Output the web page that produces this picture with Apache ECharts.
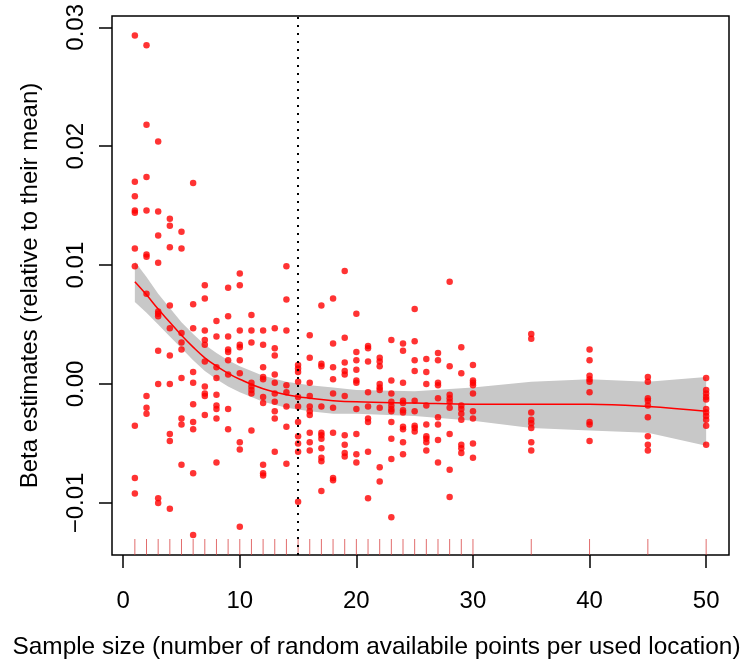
<!DOCTYPE html>
<html>
<head>
<meta charset="utf-8">
<script src="https://cdn.jsdelivr.net/npm/echarts@6/dist/echarts.min.js"></script>
<style>
  html, body { margin: 0; padding: 0; background: #fff; }
  #chart { width: 742px; height: 661px; }
</style>
</head>
<body>
<div id="chart"></div>
<script>
// Sample sizes (random available points per used location)
const sampleSizes = [1, 2, 3, 4, 5, 6, 7, 8, 9, 10, 11, 12, 13, 14, 15, 16, 17, 18, 19, 20,
  21, 22, 23, 24, 25, 26, 27, 28, 29, 30, 35, 40, 45, 50];

// Beta estimates (relative to their mean), one list per sample size
const betaEstimates = [
  [0.0293, 0.0170, 0.0158, 0.0146, 0.0144, 0.0114, 0.0099, -0.0035, -0.0079, -0.0092],
  [0.0285, 0.0218, 0.0174, 0.0146, 0.0109, 0.0107, 0.0076, -0.0010, -0.0020, -0.0025],
  [0.0204, 0.0145, 0.0125, 0.0102, 0.0061, 0.0059, 0.0057, 0.0028, 0.0000, -0.0096, -0.0100],
  [0.0139, 0.0133, 0.0115, 0.0066, 0.0047, 0.0024, 0.0000, -0.0042, -0.0048, -0.0105],
  [0.0128, 0.0114, 0.0043, 0.0035, 0.0029, 0.0005, -0.0029, -0.0034, -0.0068],
  [0.0169, 0.0067, 0.0047, 0.0010, 0.0001, -0.0017, -0.0032, -0.0038, -0.0075, -0.0127],
  [0.0083, 0.0072, 0.0045, 0.0037, 0.0033, 0.0019, -0.0002, -0.0008, -0.0010, -0.0026],
  [0.0053, 0.0040, 0.0014, 0.0005, -0.0009, -0.0018, -0.0021, -0.0029, -0.0066],
  [0.0081, 0.0057, 0.0040, 0.0029, 0.0027, 0.0020, 0.0008, -0.0021, -0.0038],
  [0.0093, 0.0083, 0.0045, 0.0033, 0.0031, 0.0020, 0.0009, -0.0049, -0.0055, -0.0120],
  [0.0058, 0.0045, 0.0035, 0.0001, -0.0002, -0.0005, -0.0008, -0.0039],
  [0.0045, 0.0033, 0.0014, 0.0006, 0.0004, -0.0011, -0.0016, -0.0068, -0.0075, -0.0077],
  [0.0047, 0.0030, 0.0024, 0.0008, 0.0001, -0.0008, -0.0015, -0.0023, -0.0029, -0.0057],
  [0.0099, 0.0071, 0.0045, -0.0001, -0.0007, -0.0019, -0.0036, -0.0067],
  [0.0016, 0.0013, 0.0010, 0.0002, -0.0011, -0.0019, -0.0032, -0.0044, -0.0050, -0.0057, -0.0099],
  [0.0041, 0.0022, 0.0001, -0.0010, -0.0019, -0.0023, -0.0026, -0.0041, -0.0049, -0.0056],
  [0.0066, 0.0017, 0.0015, -0.0019, -0.0041, -0.0043, -0.0046, -0.0054, -0.0062, -0.0065, -0.0090],
  [0.0072, 0.0034, 0.0014, 0.0004, -0.0008, -0.0020, -0.0041, -0.0079, -0.0081],
  [0.0095, 0.0039, 0.0018, 0.0011, 0.0008, -0.0010, -0.0043, -0.0051, -0.0058, -0.0061],
  [0.0059, 0.0027, 0.0020, 0.0012, 0.0003, 0.0001, -0.0021, -0.0042, -0.0059, -0.0066],
  [0.0032, 0.0030, 0.0019, -0.0007, -0.0019, -0.0029, -0.0032, -0.0057, -0.0096],
  [0.0022, 0.0019, 0.0015, 0.0000, -0.0003, -0.0005, -0.0020, -0.0070, -0.0082],
  [0.0037, 0.0003, -0.0008, -0.0015, -0.0018, -0.0021, -0.0023, -0.0032, -0.0046, -0.0063, -0.0112],
  [0.0034, 0.0028, 0.0001, -0.0014, -0.0016, -0.0022, -0.0024, -0.0036, -0.0038, -0.0049, -0.0059],
  [0.0063, 0.0036, 0.0020, 0.0011, -0.0014, -0.0023, -0.0035, -0.0037, -0.0040],
  [0.0021, 0.0010, 0.0000, -0.0018, -0.0034, -0.0044, -0.0046, -0.0049, -0.0056],
  [0.0026, 0.0020, 0.0001, -0.0001, -0.0012, -0.0028, -0.0034, -0.0047, -0.0066],
  [0.0086, 0.0015, -0.0009, -0.0012, -0.0015, -0.0020, -0.0042, -0.0072, -0.0095],
  [0.0031, 0.0009, -0.0018, -0.0021, -0.0025, -0.0030, -0.0051, -0.0054, -0.0058],
  [0.0016, 0.0003, 0.0001, -0.0001, -0.0008, -0.0023, -0.0029, -0.0050, -0.0062],
  [0.0042, 0.0038, -0.0024, -0.0030, -0.0033, -0.0037, -0.0049, -0.0056],
  [0.0029, 0.0020, 0.0007, 0.0004, 0.0002, -0.0007, -0.0032, -0.0034, -0.0048],
  [0.0006, 0.0002, -0.0012, -0.0014, -0.0018, -0.0028, -0.0044, -0.0051, -0.0056],
  [0.0005, -0.0005, -0.0008, -0.0011, -0.0013, -0.0021, -0.0024, -0.0027, -0.0030, -0.0035, -0.0051]
];

// Loess smooth: fitted curve and confidence band
const smoothX     = [1, 2, 3, 4, 5, 6, 7, 8, 9, 10, 12, 14, 16, 18, 20, 25, 30, 35, 40, 45, 50];
const smoothFit   = [0.0086, 0.0075, 0.0063, 0.0052, 0.0041, 0.0031, 0.0022, 0.0015, 0.0009, 0.0004,
  -0.0004, -0.0009, -0.0012, -0.0014, -0.0015, -0.0016, -0.0017, -0.0017, -0.0017, -0.0019, -0.0023];
const smoothUpper = [0.0103, 0.0090, 0.0076, 0.0064, 0.0052, 0.0042, 0.0033, 0.0026, 0.0020, 0.0015,
  0.0007, 0.0002, -0.0001, -0.0003, -0.0005, -0.0006, -0.0003, 0.0002, 0.0004, 0.0002, 0.0006];
const smoothLower = [0.0069, 0.0060, 0.0050, 0.0040, 0.0030, 0.0020, 0.0011, 0.0004, -0.0002, -0.0007,
  -0.0015, -0.0020, -0.0023, -0.0025, -0.0025, -0.0027, -0.0031, -0.0037, -0.0039, -0.0041, -0.0052];

// Axis ranges and ticks
const xMin = -0.96, xMax = 51.96;
const yMin = -0.01438, yMax = 0.03095;
const xTicks = [0, 10, 20, 30, 40, 50];
const yTicks = [-0.01, 0, 0.01, 0.02, 0.03];
const cutoffSize = 15;

const points = [];
sampleSizes.forEach((n, i) => betaEstimates[i].forEach(b => points.push([n, b])));

const fontFamily = '"Liberation Sans", Arial, sans-serif';
const chart = echarts.init(document.getElementById('chart'), null, { renderer: 'canvas' });

chart.setOption({
  animation: false,
  backgroundColor: '#ffffff',
  grid: {
    left: 112, right: 13, top: 16, bottom: 106,
    containLabel: false,
    outerBoundsMode: 'none',
    show: true, borderColor: '#000', borderWidth: 1.5, backgroundColor: 'transparent'
  },
  xAxis: {
    type: 'value', min: xMin, max: xMax,
    axisLine: { show: false, onZero: false },
    splitLine: { show: false },
    axisTick: { show: true, inside: false, length: 13, customValues: xTicks,
      lineStyle: { color: '#000', width: 1.5 } },
    axisLabel: { customValues: xTicks, margin: 34, color: '#000', fontSize: 24, fontFamily },
    name: 'Sample size (number of random availabile points per used location)',
    nameLocation: 'middle', nameGap: 80,
    nameTextStyle: { color: '#000', fontSize: 24.4, fontFamily, padding: [0, 88, 0, 0] }
  },
  yAxis: {
    type: 'value', min: yMin, max: yMax,
    axisLine: { show: false, onZero: false },
    splitLine: { show: false },
    axisTick: { show: true, inside: false, length: 13, customValues: yTicks,
      lineStyle: { color: '#000', width: 1.5 } },
    axisLabel: {
      customValues: yTicks, rotate: 90, margin: 24, color: '#000', fontSize: 24, fontFamily,
      formatter: v => (Math.abs(v) < 1e-9 ? 0 : v).toFixed(2).replace('-', '\u2212')
    },
    name: 'Beta estimates (relative to their mean)',
    nameLocation: 'middle', nameGap: 70, nameRotate: 90,
    nameTextStyle: { color: '#000', fontSize: 24, fontFamily }
  },
  series: [
    {
      // confidence band of the smooth
      type: 'custom',
      z: 1,
      silent: true,
      data: [[smoothX[0], smoothUpper[0]]],
      renderItem: (params, api) => {
        const pts = [];
        for (let i = 0; i < smoothX.length; i++) pts.push(api.coord([smoothX[i], smoothUpper[i]]));
        for (let i = smoothX.length - 1; i >= 0; i--) pts.push(api.coord([smoothX[i], smoothLower[i]]));
        return {
          type: 'polygon',
          shape: { points: pts },
          style: { fill: '#c8c8c8', stroke: 'none' }
        };
      }
    },
    {
      type: 'scatter',
      z: 3,
      data: points,
      symbol: 'circle',
      symbolSize: 6.5,
      itemStyle: { color: '#ff0000' },
      silent: true,
      markLine: {
        silent: true,
        symbol: ['none', 'none'],
        label: { show: false },
        lineStyle: { color: '#000', width: 2, type: [2, 6] },
        data: [{ xAxis: cutoffSize }]
      }
    },
    {
      type: 'line',
      z: 4,
      data: smoothX.map((x, i) => [x, smoothFit[i]]),
      smooth: 0.4,
      showSymbol: false,
      lineStyle: { color: '#ff0000', width: 1.5 },
      silent: true
    },
    {
      // rug along the bottom edge
      type: 'custom',
      z: 2,
      silent: true,
      data: sampleSizes.map(n => [n, yMin]),
      renderItem: (params, api) => {
        const p = api.coord([api.value(0), api.value(1)]);
        return {
          type: 'line',
          shape: { x1: p[0], y1: p[1] - 16, x2: p[0], y2: p[1] },
          style: { stroke: 'rgba(215, 60, 60, 0.75)', lineWidth: 1 }
        };
      }
    }
  ]
});
</script>
</body>
</html>
